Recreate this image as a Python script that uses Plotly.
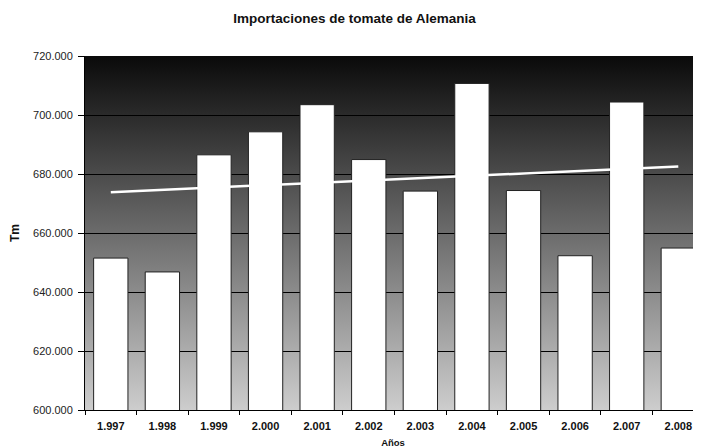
import base64
import numpy as np
import plotly.graph_objects as go

# Importaciones de tomate de Alemania (Tm)
years = [1997, 1998, 1999, 2000, 2001, 2002, 2003, 2004, 2005, 2006, 2007, 2008]
imports_tm = [651500, 646800, 686500, 694300, 703500, 684900,
              674200, 710700, 674400, 652300, 704400, 654900]
year_labels = [f"{y:,}".replace(",", ".") for y in years]

# linear trend line like the Excel one
idx = np.arange(len(years))
slope, intercept = np.polyfit(idx, imports_tm, 1)
trend = slope * idx + intercept

# grey gradient for the plot background
svg = ('<svg xmlns="http://www.w3.org/2000/svg" width="10" height="100" preserveAspectRatio="none">'
       '<defs><linearGradient id="g" x1="0" y1="0" x2="0" y2="1">'
       '<stop offset="0" stop-color="#0a0a0a"/><stop offset="1" stop-color="#cdcdcd"/>'
       '</linearGradient></defs><rect width="10" height="100" fill="url(#g)"/></svg>')
bg_src = "data:image/svg+xml;base64," + base64.b64encode(svg.encode()).decode()

fig = go.Figure()
fig.add_trace(go.Bar(x=year_labels, y=imports_tm, width=0.665,
                     marker=dict(color="white", line=dict(color="#222222", width=1)),
                     showlegend=False))
fig.add_trace(go.Scatter(x=year_labels, y=trend, mode="lines",
                         line=dict(color="white", width=2.5), showlegend=False))

# page body has an 8px margin, so the figure is a bit smaller than the window
fig.update_layout(
    width=693, height=440,
    margin=dict(l=77, r=0, t=48, b=38),
    paper_bgcolor="white", plot_bgcolor="rgba(0,0,0,0)",
    separators=",.",
    font=dict(family="Liberation Sans, Arial, sans-serif", size=11, color="#111111"),
    title=dict(text="<b>Importaciones de tomate de Alemania</b>", x=0.5, xanchor="center",
               y=0.976, yanchor="middle", font=dict(size=13.5, color="#111111")),
    images=[dict(source=bg_src, xref="paper", yref="paper", x=0, y=1, sizex=1, sizey=1,
                 xanchor="left", yanchor="top", sizing="stretch", layer="below")],
    bargap=0.335,
)
fig.update_xaxes(type="category", range=[-0.5, 11.44], tickson="boundaries",
                 ticks="outside", ticklen=4, tickcolor="black", ticklabelstandoff=6,
                 showline=True, linecolor="black", linewidth=1, showgrid=False,
                 automargin=False,
                 tickfont=dict(size=11, weight="bold", color="#111111"),
                 title=dict(text="Años", font=dict(size=9.5, weight="bold"), standoff=8))
fig.update_yaxes(range=[600000, 720000], dtick=20000, tickformat=",d",
                 ticks="outside", ticklen=6, tickcolor="black", ticklabelstandoff=3,
                 showline=True, linecolor="black", linewidth=1,
                 showgrid=True, gridcolor="black", gridwidth=1, zeroline=False,
                 automargin=False,
                 tickfont=dict(size=11, color="#222222"),
                 title=dict(text="Tm", font=dict(size=12, weight="bold"), standoff=10))

fig.write_html("out.html")
